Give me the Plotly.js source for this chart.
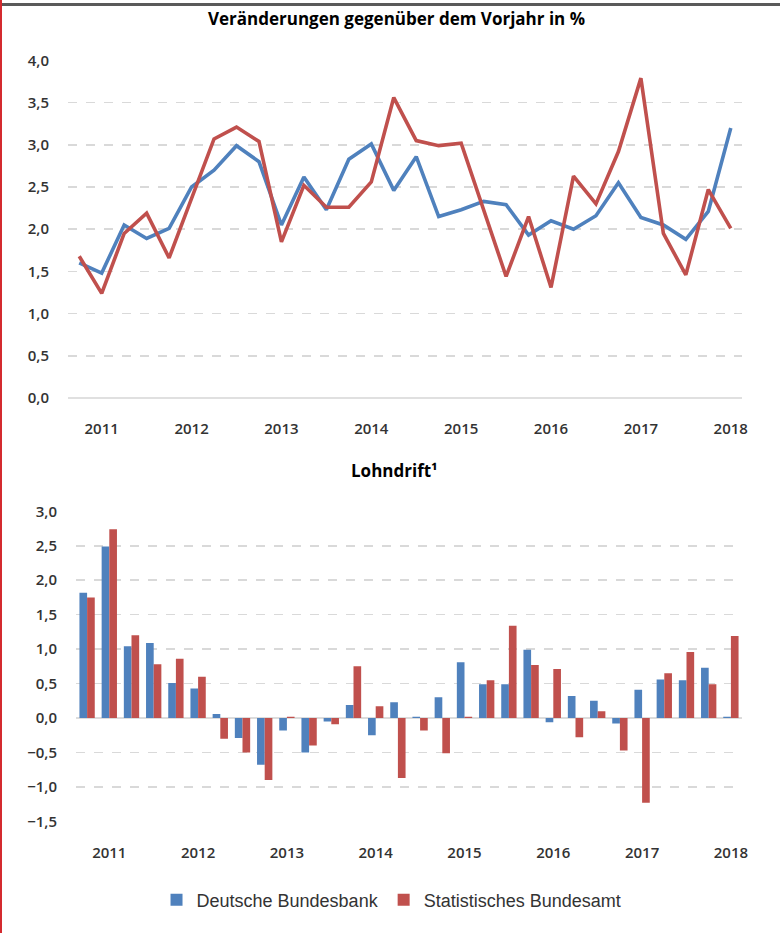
<!DOCTYPE html>
<html>
<head>
<meta charset="utf-8">
<script src="https://cdn.plot.ly/plotly-3.0.1.min.js"></script>
<style>
  html, body { margin: 0; padding: 0; background: #fff; }
  #wrap { position: relative; width: 780px; height: 933px; overflow: hidden; }
  #chart { position: absolute; left: 0; top: 0; width: 780px; height: 933px; }
  #topline { position: absolute; left: 0; top: 3px; width: 780px; height: 3px; background: #5a5a5a; }
  #leftline { position: absolute; left: 0; top: 0; width: 2px; height: 933px; background: #d42a2f; }
</style>
</head>
<body>
<div id="wrap">
  <div id="chart"></div>
  <div id="topline"></div>
  <div id="leftline"></div>
</div>
<script>
// Quarters 2010Q4 .. 2018Q1
const quarters = ["2010Q4",
  "2011Q1","2011Q2","2011Q3","2011Q4",
  "2012Q1","2012Q2","2012Q3","2012Q4",
  "2013Q1","2013Q2","2013Q3","2013Q4",
  "2014Q1","2014Q2","2014Q3","2014Q4",
  "2015Q1","2015Q2","2015Q3","2015Q4",
  "2016Q1","2016Q2","2016Q3","2016Q4",
  "2017Q1","2017Q2","2017Q3","2017Q4",
  "2018Q1"];
const yearTickQuarters = ["2011Q1","2012Q1","2013Q1","2014Q1","2015Q1","2016Q1","2017Q1","2018Q1"];
const yearTickLabels = ["2011","2012","2013","2014","2015","2016","2017","2018"];

const seriesNames = ["Deutsche Bundesbank", "Statistisches Bundesamt"];

// Top panel: Veränderungen gegenüber dem Vorjahr in %
const changeBundesbank = [1.60,1.48,2.05,1.89,2.01,2.50,2.70,2.99,2.80,2.05,2.62,2.23,2.83,3.01,2.46,2.86,2.15,2.23,2.33,2.29,1.93,2.10,2.00,2.16,2.55,2.14,2.05,1.88,2.21,3.20];
const changeDestatis   = [1.68,1.24,1.95,2.19,1.66,2.38,3.07,3.21,3.04,1.85,2.52,2.26,2.26,2.56,3.56,3.05,2.99,3.02,2.23,1.44,2.15,1.31,2.63,2.30,2.92,3.79,1.95,1.46,2.47,2.01];

// Bottom panel: Lohndrift
const driftBundesbank = [1.82,2.49,1.04,1.09,0.51,0.43,0.06,-0.29,-0.68,-0.18,-0.50,-0.05,0.19,-0.25,0.23,0.02,0.30,0.81,0.49,0.49,0.99,-0.06,0.32,0.25,-0.08,0.41,0.56,0.55,0.73,0.02];
const driftDestatis   = [1.75,2.74,1.20,0.78,0.86,0.60,-0.30,-0.50,-0.90,0.02,-0.40,-0.09,0.75,0.17,-0.87,-0.18,-0.51,0.02,0.55,1.34,0.77,0.71,-0.28,0.10,-0.47,-1.23,0.65,0.96,0.49,1.19];

const topTitle = "Veränderungen gegenüber dem Vorjahr in %";
const bottomTitle = "Lohndrift¹";

const BLUE = "#4F81BD";
const RED = "#C0504D";

const traces = [
  { x: quarters, y: changeBundesbank, type: "scatter", mode: "lines", name: seriesNames[0],
    line: { color: BLUE, width: 3.6 }, xaxis: "x", yaxis: "y", showlegend: false, hoverinfo: "y" },
  { x: quarters, y: changeDestatis, type: "scatter", mode: "lines", name: seriesNames[1],
    line: { color: RED, width: 3.6 }, xaxis: "x", yaxis: "y", showlegend: false, hoverinfo: "y" },
  { x: quarters, y: driftBundesbank, type: "bar", name: seriesNames[0],
    marker: { color: BLUE, line: { width: 0 } }, xaxis: "x2", yaxis: "y2" },
  { x: quarters, y: driftDestatis, type: "bar", name: seriesNames[1],
    marker: { color: RED, line: { width: 0 } }, xaxis: "x2", yaxis: "y2" }
];

const tickFont = { family: "Open Sans, sans-serif", size: 15, color: "#333", weight: 600 };
const gridColor = "#d9d9d9";

const layout = {
  width: 780, height: 933,
  margin: { l: 68, r: 38, t: 0, b: 0 },
  paper_bgcolor: "#fff", plot_bgcolor: "#fff",
  separators: ",.",
  barmode: "group", bargap: 0.31, bargroupgap: 0,
  showlegend: true,
  legend: { orientation: "h", x: 0.48, xanchor: "center", y: 1 - 900/933, yanchor: "middle",
    font: { family: "Liberation Sans, Arial, sans-serif", size: 18, color: "#333" },
    itemclick: false, tracegroupgap: 0 },
  xaxis: { domain: [0, 1], anchor: "y", type: "category", range: [-0.5, 29.5],
    tickmode: "array", tickvals: yearTickQuarters, ticktext: yearTickLabels,
    showgrid: false, showline: false, zeroline: false, ticks: "", tickfont: tickFont, ticklabelstandoff: 20 },
  yaxis: { domain: [1 - 398/933, 1 - 60/933], anchor: "x", range: [0, 4.005], dtick: 0.5, tick0: 0,
    tickformat: ".1f", showgrid: true, gridcolor: gridColor, griddash: "dash", gridwidth: 1.6,
    zeroline: true, zerolinecolor: "#e0e0e0", zerolinewidth: 1.6, showline: false, ticks: "",
    tickfont: tickFont, ticklabelstandoff: 18 },
  xaxis2: { domain: [(76 - 68)/674, 1], anchor: "y2", type: "category", range: [-0.5, 29.5],
    tickmode: "array", tickvals: yearTickQuarters, ticktext: yearTickLabels,
    showgrid: false, showline: false, zeroline: false, ticks: "", tickfont: tickFont, ticklabelstandoff: 20 },
  yaxis2: { domain: [1 - 821.7/933, 1 - 511/933], anchor: "x2", range: [-1.505, 3.005], dtick: 0.5, tick0: 0,
    tickformat: ".1f", showgrid: true, gridcolor: gridColor, griddash: "dash", gridwidth: 1.6,
    zeroline: true, zerolinecolor: "#dcdcdc", zerolinewidth: 1.6, showline: false, ticks: "",
    tickfont: tickFont, ticklabelstandoff: 18 },
  annotations: [
    { text: "<b>" + topTitle + "</b>", xref: "paper", yref: "paper", x: (396 - 68)/674, y: 1 - 19/933,
      xanchor: "center", yanchor: "middle", showarrow: false,
      font: { family: "Open Sans, sans-serif", size: 17, color: "#000" } },
    { text: "<b>" + bottomTitle + "</b>", xref: "paper", yref: "paper", x: (394 - 68)/674, y: 1 - 471/933,
      xanchor: "center", yanchor: "middle", showarrow: false,
      font: { family: "Open Sans, sans-serif", size: 17, color: "#000" } }
  ]
};

Plotly.newPlot("chart", traces, layout, { displayModeBar: false, staticPlot: true });
</script>
</body>
</html>
